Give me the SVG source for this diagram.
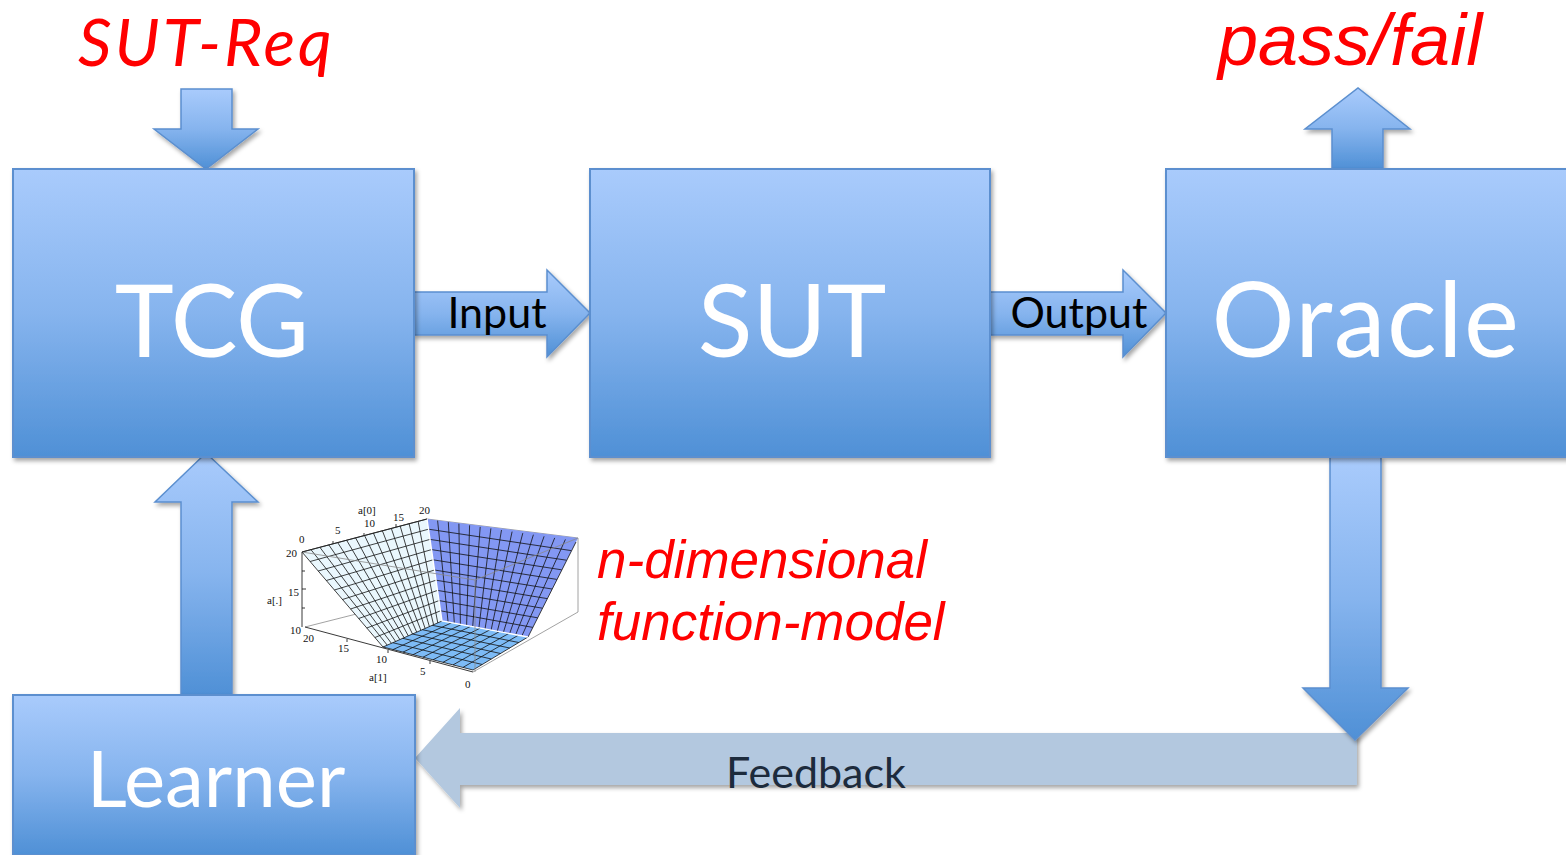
<svg xmlns="http://www.w3.org/2000/svg" width="1566" height="855" viewBox="0 0 1566 855">
  <defs>
    <linearGradient id="blueFill" x1="0" y1="0" x2="0" y2="1">
      <stop offset="0" stop-color="#a9cbfc"/>
      <stop offset="0.5" stop-color="#86b4ee"/>
      <stop offset="1" stop-color="#4f90d6"/>
    </linearGradient>
    <filter id="shadow" x="-10%" y="-10%" width="125%" height="130%">
      <feDropShadow dx="2" dy="3" stdDeviation="2.2" flood-color="#000" flood-opacity="0.35"/>
    </filter>
    <style>
      .box { fill: url(#blueFill); stroke: #5b8fcf; stroke-width: 2; filter: url(#shadow); }
      .arrow { fill: url(#blueFill); stroke: #5b8fcf; stroke-width: 1.5; filter: url(#shadow); }
      .feedback { fill: #b3c8df; filter: url(#shadow); }
      .nodeLabel { font-family: Lato, "Open Sans", sans-serif; fill: #ffffff; text-anchor: middle; }
      .edgeLabel { font-family: Lato, "Open Sans", sans-serif; fill: #000000; font-size: 43px; text-anchor: middle; }
      .red { fill: #ff0000; font-style: italic; }
      .plotText { font-family: "Liberation Serif", serif; font-size: 11px; fill: #111; }
      .grid { stroke: #111; stroke-width: 0.8; fill: none; }
      .frame { stroke: #8a8a8a; stroke-width: 0.8; fill: none; }
      .axis { stroke: #222; stroke-width: 0.9; fill: none; }
    </style>
  </defs>

  <rect width="1566" height="855" fill="#ffffff"/>

  <!-- connectors -->
  <g id="connectors">
    <path id="req-in" class="arrow" d="M181,89 H232 V129 H258 L206,169 L154,129 H181 Z"/>
    <path id="verdict-out" class="arrow" d="M1332,169 V129 H1305 L1358,88 L1410,129 H1383 V169 Z"/>
    <path id="tcg-sut" class="arrow" d="M414,292 H547 V270 L590,313 L547,357 V335 H414 Z"/>
    <path id="sut-oracle" class="arrow" d="M990,292 H1123 V270 L1166,313 L1123,357 V335 H990 Z"/>
    <path id="learner-tcg" class="arrow" d="M181,695 V502 H155 L206,453 L258,502 H232 V695 Z"/>
    <path id="oracle-learner" class="feedback" d="M1357,733 V785 H460 V808 L415,758 L460,708 V733 Z"/>
    <path id="oracle-down" class="arrow" d="M1330,457 H1381 V688 H1408 L1355,740 L1303,688 H1330 Z"/>
    <text class="edgeLabel" x="497" y="328">Input</text>
    <text class="edgeLabel" x="1079" y="328">Output</text>
    <text class="edgeLabel" x="816" y="788" style="fill:#1d2b3c">Feedback</text>
  </g>

  <!-- nodes -->
  <g id="tcg">
    <rect class="box" x="13" y="169" width="401" height="288"/>
    <text class="nodeLabel" x="212" y="357" font-size="100">TCG</text>
  </g>
  <g id="sut">
    <rect class="box" x="590" y="169" width="400" height="288"/>
    <text class="nodeLabel" x="792" y="357" font-size="101">SUT</text>
  </g>
  <g id="oracle">
    <rect class="box" x="1166" y="169" width="402" height="288"/>
    <text class="nodeLabel" x="1366" y="357" font-size="104" letter-spacing="1.5">Oracle</text>
  </g>
  <g id="learner">
    <rect class="box" x="13" y="695" width="402" height="160"/>
    <text class="nodeLabel" x="216" y="807" font-size="78">Learner</text>
  </g>

  <!-- annotations -->
  <g id="labels">
    <text class="red" x="78" y="66" font-family="Lato, 'Open Sans', sans-serif" font-size="66" letter-spacing="3">SUT-Req</text>
    <text class="red" x="1218" y="65" font-family="'Liberation Sans', Arial, sans-serif" font-size="72">pass/fail</text>
    <text class="red" x="597" y="578" font-family="'Liberation Sans', Arial, sans-serif" font-size="53">n-dimensional</text>
    <text class="red" x="597" y="640" font-family="'Liberation Sans', Arial, sans-serif" font-size="53">function-model</text>
  </g>

  <!-- surface plot of the function model -->
  <g id="surface-plot">
    <!-- hidden back edge of the bounding box -->
    <path class="frame" d="M305,627 L380,608"/>
    <path class="frame" d="M427,519 L578,538 V612 L473,672"/>

    <!-- faces -->
    <polygon points="302,552 427,519 442,621 383,647" fill="#eaf7fd"/>
    <polygon points="427,519 578,538 576,542 528,637 442,621" fill="#8398f3"/>
    <polygon points="383,647 442,621 528,637 473,670" fill="#7dbbf6"/>

    <!-- mesh: sloped left face -->
    <path class="grid" d="M302,552 L427,519 M310.1,561.5 L428.5,529.2 M318.2,571 L430,539.4 M326.3,580.5 L431.5,549.6 M334.4,590 L433,559.8 M342.5,599.5 L434.5,570 M350.6,609 L436,580.2 M358.7,618.5 L437.5,590.4 M366.8,628 L439,600.6 M374.9,637.5 L440.5,610.8 M383,647 L442,621"/>
    <path class="grid" d="M302,552 L383,647 M310.9,549.6 L387.2,645.1 M319.9,547.3 L391.4,643.3 M328.8,544.9 L395.6,641.4 M337.7,542.6 L399.9,639.6 M346.6,540.2 L404.1,637.7 M355.6,537.9 L408.3,635.9 M364.5,535.5 L412.5,634 M373.4,533.1 L416.7,632.1 M382.4,530.8 L420.9,630.3 M391.3,528.4 L425.1,628.4 M400.2,526.1 L429.4,626.6 M409.1,523.7 L433.6,624.7 M418.1,521.4 L437.8,622.9"/>

    <!-- mesh: sloped right face -->
    <path class="grid" d="M428.5,529.2 L571.2,550.6 M430,539.4 L566.4,560.2 M431.5,549.6 L561.6,569.8 M433,559.8 L556.8,579.4 M434.5,570 L552,589 M436,580.2 L547.2,598.6 M437.5,590.4 L542.4,608.2 M439,600.6 L537.6,617.8 M440.5,610.8 L532.8,627.4 M576,542 L528,637"/>
    <path class="grid" d="M437.6,520.6 L448.1,622.1 M448.3,522.1 L454.3,623.3 M458.9,523.7 L460.4,624.4 M469.6,525.3 L466.6,625.6 M480.2,526.9 L472.7,626.7 M490.9,528.4 L478.9,627.9 M501.5,530 L485,629 M512.1,531.6 L491.1,630.1 M522.8,533.1 L497.3,631.3 M533.4,534.7 L503.4,632.4 M544.1,536.3 L509.6,633.6 M554.7,537.9 L515.7,634.7 M565.4,539.4 L521.9,635.9"/>

    <!-- mesh: flat floor -->
    <path class="grid" d="M392.8,642.7 L482.2,664.5 M402.7,638.3 L491.3,659 M412.5,634 L500.5,653.5 M422.3,629.7 L509.7,648 M432.2,625.3 L518.8,642.5 M383,647 L473,670"/>
    <path class="grid" d="M393,649.6 L451.6,622.8 M403,652.1 L461.1,624.6 M413,654.7 L470.7,626.3 M423,657.2 L480.2,628.1 M433,659.8 L489.8,629.9 M443,662.3 L499.3,631.7 M453,664.9 L508.9,633.4 M463,667.4 L518.4,635.2 M473,670 L528,637"/>

    <!-- creases -->
    <path d="M427,519 L442,621 L528,637" stroke="#ffffff" stroke-width="1.4" fill="none"/>

    <!-- front edges of the bounding box -->
    <path class="frame" d="M302,552 L475,580 L578,538 M475,580 V672"/>

    <!-- axes with ticks -->
    <path class="axis" d="M302,552 L427,519 M302,552 V627 M305,627 L473,672"/>
    <path class="axis" d="M333,544 l0,-3 M364,536 l0,-3 M396,527 l0,-3 M302,571 h3 M302,589 h4 M302,608 h3 M347,639 l0,3 M388,650 l0,3 M430,661 l0,3"/>

    <text class="plotText" x="358" y="514">a[0]</text>
    <text class="plotText" x="299" y="543">0</text>
    <text class="plotText" x="335" y="534">5</text>
    <text class="plotText" x="364" y="527">10</text>
    <text class="plotText" x="393" y="521">15</text>
    <text class="plotText" x="419" y="514">20</text>
    <text class="plotText" x="286" y="557">20</text>
    <text class="plotText" x="267" y="604">a[.]</text>
    <text class="plotText" x="288" y="596" font-size="10">15</text>
    <text class="plotText" x="290" y="634">10</text>
    <text class="plotText" x="303" y="642">20</text>
    <text class="plotText" x="338" y="652">15</text>
    <text class="plotText" x="376" y="663">10</text>
    <text class="plotText" x="369" y="681">a[1]</text>
    <text class="plotText" x="420" y="675">5</text>
    <text class="plotText" x="465" y="688">0</text>
  </g>
</svg>
